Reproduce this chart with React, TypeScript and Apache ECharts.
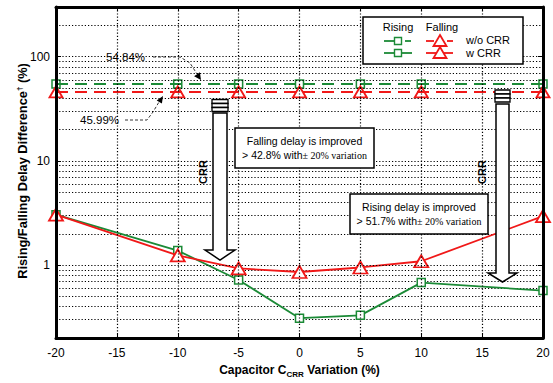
import React, { useEffect, useRef } from "react";
import * as echarts from "echarts";

const xValues = [-20, -10, -5, 0, 5, 10, 20];
const risingWoCRR = [54.84, 54.84, 54.84, 54.84, 54.84, 54.84, 54.84];
const fallingWoCRR = [45.99, 45.99, 45.99, 45.99, 45.99, 45.99, 45.99];
const risingWCRR = [3.05, 1.38, 0.72, 0.31, 0.33, 0.68, 0.57];
const fallingWCRR = [3.05, 1.24, 0.93, 0.86, 0.95, 1.09, 2.95];
const minorGrid = [0.3, 0.4, 0.5, 0.6, 0.7, 0.8, 0.9, 2, 3, 4, 5, 6, 7, 8, 9, 20, 30, 40, 50, 60, 70, 80, 90, 200];

const GREEN = "#1b8a36";
const RED = "#f01818";
const FONT = "'Liberation Sans', Arial, sans-serif";
const SERIF = "'Liberation Serif', 'Times New Roman', serif";

const pairs = (ys: number[]) => xValues.map((x, i) => [x, ys[i]]);

export default function App() {
  const ref = useRef<HTMLDivElement>(null);
  useEffect(() => {
    if (!ref.current) return;
    const chart = echarts.init(ref.current, null, { renderer: "svg" });
    const dotted = { color: "#000", type: [1.2, 2] as any, width: 1.2 };
    const border = { show: true, onZero: false, lineStyle: { color: "#000", width: 3 } };
    const arrowLeft = [[213, 113], [227, 113], [227, 250], [235, 250], [220, 260], [205, 250], [213, 250]];
    const arrowRight = [[496, 104], [509, 104], [509, 273], [517, 273], [502.5, 282], [488, 273], [496, 273]];
    const Z = 100;
    const bars = (x: number, y: number, w: number) =>
      [0, 1, 2].map((k) => ({
        type: "rect", z: Z, shape: { x, y: y + k * 4, width: w, height: 4 },
        style: { fill: "#fff", stroke: "#000", lineWidth: 1.3 },
      }));
    const option: any = {
      animation: false,
      textStyle: { fontFamily: FONT },
      grid: { left: 56, right: 10, top: 7, bottom: 45 },
      xAxis: [
        {
          type: "value", min: -20, max: 20, interval: 5, z: 20,
          axisLine: border,
          axisTick: { show: true, inside: true, length: 5, lineStyle: { color: "#000", width: 1 } },
          axisLabel: { color: "#000", fontSize: 12, margin: 9, fontFamily: FONT },
          splitLine: { show: true, lineStyle: dotted },
        },
        {
          type: "value", position: "top", min: -20, max: 20, interval: 5, z: 20,
          axisLine: border,
          axisTick: { show: true, inside: true, length: 4, lineStyle: { color: "#000" } },
          axisLabel: { show: false }, splitLine: { show: false },
        },
      ],
      yAxis: [
        {
          type: "log", logBase: 10, min: 0.2, max: 300, z: 20,
          axisLine: border,
          axisTick: { show: true, inside: true, length: 5, lineStyle: { color: "#000" } },
          axisLabel: { color: "#000", fontSize: 12, margin: 6, showMinLabel: false, showMaxLabel: false, fontFamily: FONT },
          splitLine: { show: true, lineStyle: dotted },
        },
        {
          type: "log", logBase: 10, min: 0.2, max: 300, position: "right", z: 20,
          axisLine: border,
          axisTick: { show: true, inside: true, length: 5, lineStyle: { color: "#000" } },
          axisLabel: { show: false }, splitLine: { show: false },
        },
      ],
      series: [
        {
          type: "line", data: [], z: 1, silent: true,
          markLine: {
            silent: true, symbol: "none", label: { show: false },
            lineStyle: dotted, emphasis: { disabled: true },
            data: minorGrid.map((v) => ({ yAxis: v })),
          },
        },
        {
          name: "Rising w/o CRR", type: "line", data: pairs(risingWoCRR), z: 3,
          symbol: "rect", symbolSize: 8,
          lineStyle: { color: GREEN, width: 2, type: [12, 7] },
          itemStyle: { color: "none", borderColor: GREEN, borderWidth: 1.5 },
        },
        {
          name: "Falling w/o CRR", type: "line", data: pairs(fallingWoCRR), z: 4,
          symbol: "triangle", symbolSize: [13, 11],
          lineStyle: { color: RED, width: 2, type: [12, 7] },
          itemStyle: { color: "none", borderColor: RED, borderWidth: 1.8 },
        },
        {
          name: "Rising w CRR", type: "line", data: pairs(risingWCRR), z: 5,
          symbol: "rect", symbolSize: 8,
          lineStyle: { color: GREEN, width: 1.8 },
          itemStyle: { color: "#fff", borderColor: GREEN, borderWidth: 1.5 },
        },
        {
          name: "Falling w CRR", type: "line", data: pairs(fallingWCRR), z: 6,
          symbol: "triangle", symbolSize: [14, 12],
          lineStyle: { color: RED, width: 1.8 },
          itemStyle: { color: "#fff", borderColor: RED, borderWidth: 1.8 },
        },
      ],
      graphic: [
        // axis titles
        {
          type: "text", x: 22, y: 171, rotation: Math.PI / 2, z: Z,
          style: {
            text: "Rising/Falling Delay Difference{sup|†} (%)",
            font: `bold 12.8px ${FONT}`, fill: "#000", align: "center", verticalAlign: "middle",
            rich: { sup: { fontSize: 8, fontWeight: "bold", verticalAlign: "top", lineHeight: 8, fontFamily: FONT } },
          },
        },
        {
          type: "text", x: 299.5, y: 370, z: Z,
          style: {
            text: "Capacitor C{sub|CRR} Variation (%)",
            font: `bold 12px ${FONT}`, fill: "#000", align: "center", verticalAlign: "middle", lineHeight: 16,
            rich: { sub: { fontSize: 8, fontWeight: "bold", verticalAlign: "bottom", lineHeight: 8, fontFamily: FONT } },
          },
        },
        // legend box
        { type: "rect", z: Z, shape: { x: 363, y: 17, width: 160, height: 47 }, style: { fill: "#fff", stroke: "#000", lineWidth: 1.5 } },
        { type: "text", z: Z, x: 398, y: 27, style: { text: "Rising", font: `11px ${FONT}`, fill: "#000", align: "center", verticalAlign: "middle" } },
        { type: "text", z: Z, x: 442, y: 27, style: { text: "Falling", font: `11px ${FONT}`, fill: "#000", align: "center", verticalAlign: "middle" } },
        { type: "text", z: Z, x: 466, y: 40, style: { text: "w/o CRR", font: `11px ${FONT}`, fill: "#000", align: "left", verticalAlign: "middle" } },
        { type: "text", z: Z, x: 466, y: 53, style: { text: "w CRR", font: `11px ${FONT}`, fill: "#000", align: "left", verticalAlign: "middle" } },
        { type: "line", z: Z, shape: { x1: 384, y1: 41, x2: 394, y2: 41 }, style: { stroke: GREEN, lineWidth: 1.8 } },
        { type: "line", z: Z, shape: { x1: 405, y1: 41, x2: 411, y2: 41 }, style: { stroke: GREEN, lineWidth: 1.8 } },
        { type: "rect", z: Z + 1, shape: { x: 394.5, y: 37.5, width: 7, height: 7 }, style: { fill: "none", stroke: GREEN, lineWidth: 1.4 } },
        { type: "line", z: Z, shape: { x1: 426, y1: 41, x2: 434, y2: 41 }, style: { stroke: RED, lineWidth: 1.8 } },
        { type: "line", z: Z, shape: { x1: 447, y1: 41, x2: 453, y2: 41 }, style: { stroke: RED, lineWidth: 1.8 } },
        { type: "polygon", z: Z + 1, shape: { points: [[440, 35], [446.5, 46], [433.5, 46]] }, style: { fill: "#fff", stroke: RED, lineWidth: 1.8 } },
        { type: "line", z: Z, shape: { x1: 384, y1: 53, x2: 412, y2: 53 }, style: { stroke: GREEN, lineWidth: 1.8 } },
        { type: "rect", z: Z + 1, shape: { x: 394.5, y: 49.5, width: 7, height: 7 }, style: { fill: "#fff", stroke: GREEN, lineWidth: 1.4 } },
        { type: "line", z: Z, shape: { x1: 426, y1: 53, x2: 453, y2: 53 }, style: { stroke: RED, lineWidth: 1.8 } },
        { type: "polygon", z: Z + 1, shape: { points: [[440, 47], [446.5, 58], [433.5, 58]] }, style: { fill: "#fff", stroke: RED, lineWidth: 1.8 } },
        // value annotations
        { type: "text", z: Z, x: 106, y: 57, style: { text: "54.84%", font: `11.5px ${FONT}`, fill: "#000", align: "left", verticalAlign: "middle" } },
        { type: "polyline", z: Z, shape: { points: [[153, 57], [180, 57], [190, 63], [197, 74]] }, style: { stroke: "#000", lineWidth: 0.8, lineDash: [3, 2], fill: "none" } },
        { type: "polygon", z: Z, shape: { points: [[201, 80], [194.1, 76.3], [199.9, 72.3]] }, style: { fill: "#000" } },
        { type: "text", z: Z, x: 80, y: 120, style: { text: "45.99%", font: `11.5px ${FONT}`, fill: "#000", align: "left", verticalAlign: "middle" } },
        { type: "polyline", z: Z, shape: { points: [[125, 120], [147, 120], [153, 112], [159, 102]] }, style: { stroke: "#000", lineWidth: 0.8, lineDash: [3, 2], fill: "none" } },
        { type: "polygon", z: Z, shape: { points: [[163, 96], [161.9, 103.6], [156.7, 100.4]] }, style: { fill: "#000" } },
        // arrows
        ...bars(212, 99.5, 16),
        { type: "polygon", z: Z, shape: { points: arrowLeft }, style: { fill: "#fff", stroke: "#000", lineWidth: 1.5 } },
        ...bars(495, 90, 15),
        { type: "polygon", z: Z, shape: { points: arrowRight }, style: { fill: "#fff", stroke: "#000", lineWidth: 1.5 } },
        { type: "text", z: Z, x: 203, y: 172, rotation: Math.PI / 2, style: { text: "CRR", font: `bold 11px ${FONT}`, fill: "#000", align: "center", verticalAlign: "middle" } },
        { type: "text", z: Z, x: 482, y: 172, rotation: Math.PI / 2, style: { text: "CRR", font: `bold 11px ${FONT}`, fill: "#000", align: "center", verticalAlign: "middle" } },
        // text boxes
        { type: "rect", z: Z, shape: { x: 235, y: 128, width: 139, height: 40 }, style: { fill: "#fff", stroke: "#000", lineWidth: 1.5 } },
        {
          type: "text", z: Z + 1, x: 304.5, y: 148,
          style: {
            text: "Falling delay is improved\n> 42.8% with{s|± 20% variation}",
            font: `10.5px ${FONT}`, fill: "#000", align: "center", verticalAlign: "middle", lineHeight: 14,
            rich: { s: { fontFamily: SERIF, fontSize: 10, lineHeight: 14 } },
          },
        },
        { type: "rect", z: Z, shape: { x: 350, y: 194, width: 138, height: 40 }, style: { fill: "#fff", stroke: "#000", lineWidth: 1.5 } },
        {
          type: "text", z: Z + 1, x: 419, y: 214,
          style: {
            text: "Rising delay is improved\n> 51.7% with{s|± 20% variation}",
            font: `10.5px ${FONT}`, fill: "#000", align: "center", verticalAlign: "middle", lineHeight: 14,
            rich: { s: { fontFamily: SERIF, fontSize: 10, lineHeight: 14 } },
          },
        },
      ],
    };
    chart.setOption(option);
    return () => chart.dispose();
  }, []);
  return <div ref={ref} style={{ width: 553, height: 383, position: "absolute", left: 0, top: 0 }} />;
}
